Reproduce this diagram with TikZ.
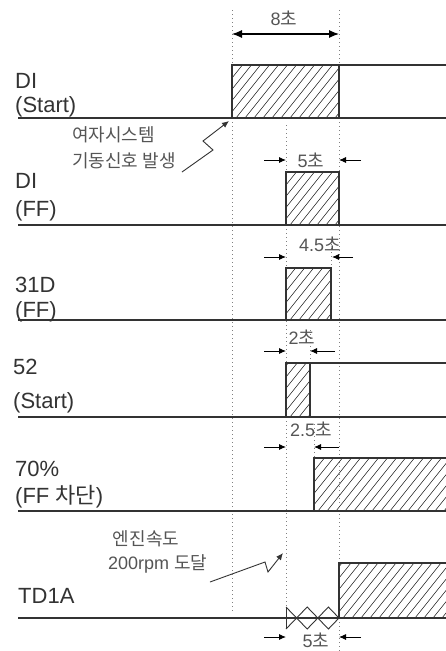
\documentclass[tikz,border=0pt]{standalone}
\usepackage{fontspec}
\setmainfont{Liberation Sans}
\newfontfamily\kr{Noto Sans CJK KR}
\usetikzlibrary{arrows.meta}
\definecolor{ink}{HTML}{333333}
\definecolor{soft}{HTML}{555555}
\tikzset{
  baseline line/.style={line width=1.3pt, draw=ink},
  edge/.style={line width=1.1pt, draw=ink},
  hatchline/.style={line width=0.6pt, draw=ink},
  guide/.style={draw=gray, line width=0.9pt, dash pattern=on 1pt off 3pt},
  dim/.style={line width=0.9pt, draw=black, -{Latex[length=7pt,width=6pt]}},
  bigdim/.style={line width=1.1pt, draw=black, {Latex[length=10pt,width=8pt]}-{Latex[length=10pt,width=8pt]}},
  lbl/.style={font=\fontsize{22}{24}\selectfont, text=ink, inner sep=0pt, anchor=base west},
  dur/.style={font=\fontsize{18}{20}\selectfont, text=soft, inner sep=0pt},
  note/.style={font=\kr\fontsize{18}{20}\selectfont, text=soft, inner sep=0pt, anchor=west},
  lead/.style={line width=0.9pt, draw=ink, -{Latex[length=7pt,width=6pt]}},
}
\newcommand\hatchbox[4]{%
  \begin{scope}
    \clip (#1,#2) rectangle (#3,#4);
    \foreach \k in {-7,...,14} {
      \draw[hatchline] ({#1+\k*9},{#4+5}) -- ++(48,-60);
    }
  \end{scope}}
\begin{document}
\begin{tikzpicture}[x=1pt,y=-1pt]
  \fill[white] (0,0) rectangle (446,651);
  \useasboundingbox (0,0) rectangle (446,651);

  % guides
  \draw[guide] (232,10) -- (232,612);
  \draw[guide] (339,10) -- (339,651);
  \draw[guide] (286,125) -- (286,607);
  \draw[guide] (331,240) -- (331,268);
  \draw[guide] (310,330) -- (310,363);
  \draw[guide] (314,424) -- (314,458);

  % 8 s
  \coordinate (e1) at (232,34);
  \coordinate (e2) at (339,34);
  \draw[bigdim] (e1) -- (e2);
  \node[dur] (t8) at (284,18) {8{\kr 초}};

  % DI (Start)
  \hatchbox{232}{65}{339}{118}
  \draw[edge] (232,118) -- (232,65) -- (446,65);
  \draw[edge] (339,65) -- (339,118);
  \draw[baseline line] (18,118) -- (446,118);
  \node[lbl] (l1a) at (15,88) {DI};
  \node[lbl] (l1b) at (15,112) {(Start)};

  % annotation 1
  \node[note] (n1a) at (72,135) {여자시스템};
  \node[note] (n1b) at (72,161) {기동신호 발생};
  \coordinate (a1s) at (182,172);
  \coordinate (a1t) at (229,121);
  \draw[lead] (a1s) -- (213,150) -- (203,141) -- (a1t);

  % DI (FF)
  \hatchbox{286}{172}{339}{225}
  \draw[edge] (286,225) rectangle (339,172);
  \draw[baseline line] (18,225) -- (446,225);
  \node[lbl] (l2a) at (15,188) {DI};
  \node[lbl] (l2b) at (15,216) {(FF)};
  \node[dur] (t5a) at (311,160) {5{\kr 초}};
  \draw[dim] (264,160) -- (286,160);
  \draw[dim] (361,160) -- (339,160);

  % 31D (FF)
  \hatchbox{286}{268}{331}{320}
  \draw[edge] (286,320) rectangle (331,268);
  \draw[baseline line] (18,320) -- (446,320);
  \node[lbl] (l3a) at (15,292) {31D};
  \node[lbl] (l3b) at (15,317) {(FF)};
  \node[dur] (t45) at (320,244) {4.5{\kr 초}};
  \draw[dim] (264,257) -- (286,257);
  \draw[dim] (353,257) -- (332,257);

  % 52 (Start)
  \hatchbox{286}{363}{310}{417}
  \draw[edge] (286,417) -- (286,363) -- (446,363);
  \draw[edge] (310,363) -- (310,417);
  \draw[baseline line] (18,417) -- (446,417);
  \node[lbl] (l4a) at (13,374) {52};
  \node[lbl] (l4b) at (13,408) {(Start)};
  \node[dur] (t2) at (302,337) {2{\kr 초}};
  \draw[dim] (264,351) -- (286,351);
  \draw[dim] (335,351) -- (310,351);

  % 70% (FF cut)
  \node[dur] (t25) at (311,429) {2.5{\kr 초}};
  \draw[dim] (264,447) -- (286,447);
  \draw[dim] (339,447) -- (314,447);
  \hatchbox{314}{458}{446}{511}
  \draw[edge] (314,511) -- (314,458) -- (446,458);
  \draw[baseline line] (18,511) -- (446,511);
  \node[lbl] (l5a) at (15,476) {70\%};
  \node[lbl] (l5b) at (15,503) {(FF {\kr 차단})};

  % annotation 2
  \node[note, anchor=center] (n2a) at (146,539) {엔진속도};
  \node[dur, text=soft, anchor=west] (n2b) at (108,564) {200rpm {\kr 도달}};
  \coordinate (a2s) at (210,582);
  \coordinate (a2t) at (283,553);
  \draw[lead] (a2s) -- (265,562) -- (268,572) -- (a2t);

  % TD1A
  \hatchbox{339}{563}{446}{618}
  \draw[edge] (339,618) -- (339,563) -- (446,563);
  \draw[baseline line] (18,618) -- (446,618);
  \node[lbl] (l6) at (18,603) {TD1A};
  \draw[edge, line width=0.9pt] (286,607) -- (286,629);
  \draw[edge, line width=0.9pt] (286,607) -- (296.6,618) -- (307.2,607) -- (317.8,618) -- (328.4,607) -- (339,618);
  \draw[edge, line width=0.9pt] (286,629) -- (296.6,618) -- (307.2,629) -- (317.8,618) -- (328.4,629) -- (339,618);
  \node[dur] (t5b) at (316,640) {5{\kr 초}};
  \draw[dim] (264,637) -- (286,637);
  \draw[dim] (361,637) -- (339,637);
\end{tikzpicture}
\end{document}
